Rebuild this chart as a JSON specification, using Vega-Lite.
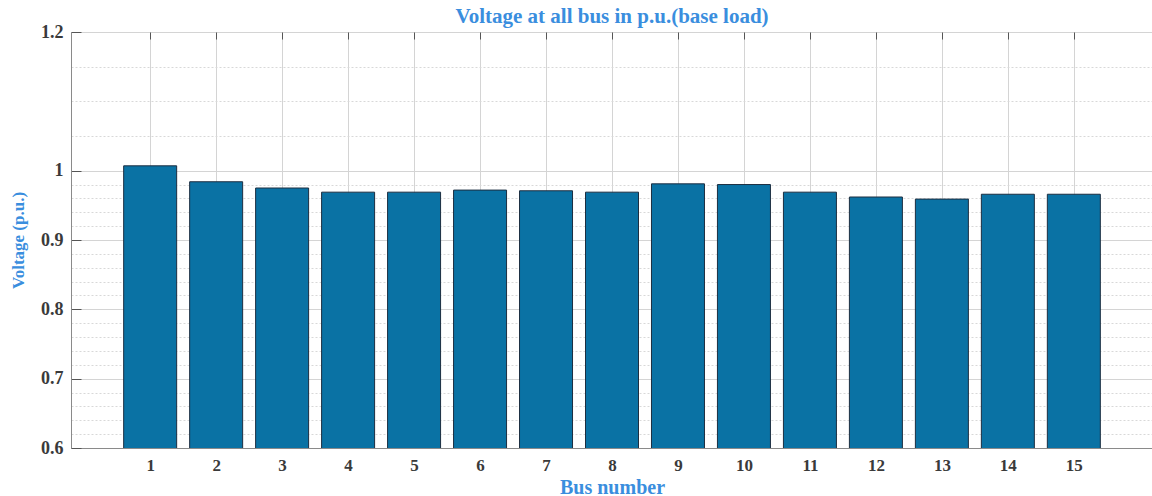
{
  "$schema": "https://vega.github.io/schema/vega-lite/v6.json",
  "autosize": {"type": "none"},
  "padding": {"left": 71, "top": 32, "right": 0, "bottom": 48},
  "width": 1082,
  "height": 416,
  "background": "white",
  "config": {
    "view": {"stroke": "#8a8a8a", "strokeWidth": 1},
    "font": "Liberation Serif"
  },
  "title": {
    "text": "Voltage at all bus in p.u.(base load)",
    "font": "Liberation Serif",
    "fontSize": 21,
    "fontWeight": "bold",
    "color": "#3a8ede",
    "anchor": "middle",
    "offset": 6,
    "dy": 10
  },
  "data": {
    "values": [
      {"bus": 1, "voltage": 1.007},
      {"bus": 2, "voltage": 0.984},
      {"bus": 3, "voltage": 0.975},
      {"bus": 4, "voltage": 0.969},
      {"bus": 5, "voltage": 0.969},
      {"bus": 6, "voltage": 0.972},
      {"bus": 7, "voltage": 0.971},
      {"bus": 8, "voltage": 0.969},
      {"bus": 9, "voltage": 0.981},
      {"bus": 10, "voltage": 0.980},
      {"bus": 11, "voltage": 0.969},
      {"bus": 12, "voltage": 0.962},
      {"bus": 13, "voltage": 0.959},
      {"bus": 14, "voltage": 0.966},
      {"bus": 15, "voltage": 0.966}
    ]
  },
  "layer": [
    {
      "mark": {"type": "bar", "opacity": 0, "clip": true},
      "encoding": {
        "x": {
          "field": "bus", "type": "quantitative",
          "scale": {"domain": [-0.2, 16.2], "nice": false, "zero": false, "padding": 0},
          "axis": {
            "orient": "top", "values": [1,2,3,4,5,6,7,8,9,10,11,12,13,14,15],
            "labels": false, "grid": false, "domain": false, "title": null,
            "ticks": true, "tickSize": -7, "tickColor": "#555", "tickWidth": 1
          }
        },
        "y": {
          "field": "voltage", "type": "quantitative",
          "scale": {"domain": [0.6, 1.2], "nice": false, "zero": false, "padding": 0},
          "axis": {
            "orient": "left",
            "values": [0.62,0.64,0.66,0.68,0.72,0.74,0.76,0.78,0.82,0.84,0.86,0.88,0.92,0.94,0.96,0.98,1.05,1.1,1.15],
            "labels": false, "ticks": false, "domain": false, "title": null,
            "grid": true, "gridColor": "#d8d8d8", "gridDash": [2, 2], "gridWidth": 1
          }
        }
      }
    },
    {
      "mark": {"type": "bar", "width": 53, "color": "#0a72a4", "stroke": "#1c2e40", "strokeWidth": 1, "clip": true},
      "encoding": {
        "x": {
          "field": "bus", "type": "quantitative",
          "scale": {"domain": [-0.2, 16.2], "nice": false, "zero": false, "padding": 0},
          "axis": {
            "orient": "bottom", "values": [1,2,3,4,5,6,7,8,9,10,11,12,13,14,15],
            "title": "Bus number",
            "titleFont": "Liberation Serif", "titleFontSize": 20, "titleFontWeight": "bold", "titleColor": "#3a8ede",
            "titleX": 541, "titleY": 39, "titleBaseline": "middle", "titleAnchor": null,
            "labelFont": "Liberation Serif", "labelFontSize": 17, "labelFontWeight": "bold", "labelColor": "#3a3a3a",
            "labelPadding": 16,
            "grid": true, "gridColor": "#d4d4d4", "gridWidth": 1,
            "domain": true, "domainColor": "#8a8a8a",
            "ticks": true, "tickSize": -7, "tickColor": "#555"
          }
        },
        "y": {
          "field": "voltage", "type": "quantitative",
          "scale": {"domain": [0.6, 1.2], "nice": false, "zero": false, "padding": 0},
          "axis": {
            "orient": "left", "values": [0.6, 0.7, 0.8, 0.9, 1, 1.2],
            "format": "~g",
            "title": "Voltage (p.u.)",
            "titleFont": "Liberation Serif", "titleFontSize": 17, "titleFontWeight": "bold", "titleColor": "#3a8ede",
            "titleX": -53, "titleY": 208, "titleAngle": -90, "titleBaseline": "middle", "titleAlign": "center", "titleAnchor": null,
            "labelFont": "Liberation Serif", "labelFontSize": 18, "labelFontWeight": "bold", "labelColor": "#3a3a3a",
            "labelPadding": 18,
            "grid": true, "gridColor": "#d4d4d4", "gridWidth": 1,
            "domain": true, "domainColor": "#8a8a8a",
            "ticks": true, "tickSize": -10, "tickColor": "#555"
          }
        }
      }
    }
  ],
  "resolve": {"axis": {"x": "independent", "y": "independent"}}
}
